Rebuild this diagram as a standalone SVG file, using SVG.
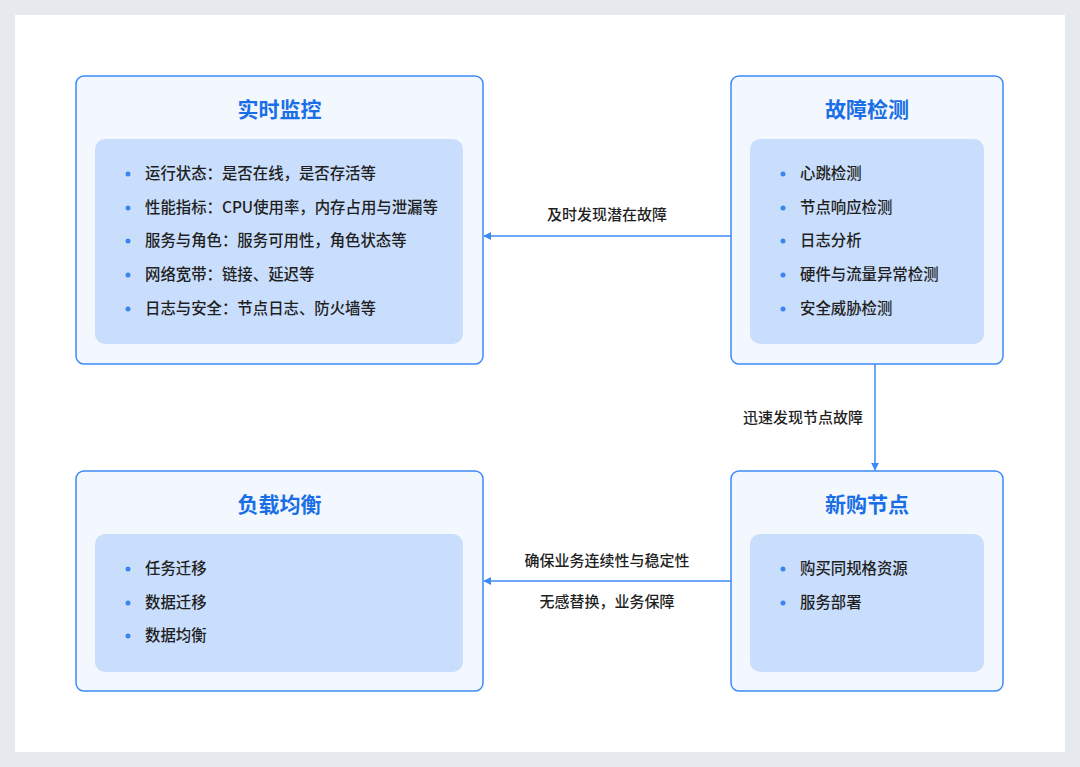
<svg xmlns="http://www.w3.org/2000/svg" width="1080" height="767" viewBox="0 0 1080 767">
<defs>
<marker id="arr" viewBox="0 0 10 10" refX="9" refY="5" markerWidth="8" markerHeight="8" markerUnits="userSpaceOnUse" orient="auto-start-reverse">
<path d="M0,0 L10,5 L0,10 z" fill="#3d8af7"/>
</marker>
<style>
.outer{fill:#f3f8ff;stroke:#3d8af7;stroke-width:1.5}
.inner{fill:#c9defc;stroke:none}
.title{font-family:"Noto Sans CJK SC","Noto Sans",sans-serif;font-size:21px;font-weight:bold;fill:#1a6ee6;text-anchor:middle}
.item{font-family:"Noto Sans CJK SC","Noto Sans",sans-serif;font-size:15.4px;font-weight:500;fill:#1f1f1f}
.bul{fill:#3a86f0}
.lbl{font-family:"Noto Sans CJK SC","Noto Sans",sans-serif;font-size:15px;font-weight:500;fill:#1f1f1f;text-anchor:middle}
.conn{stroke:#3d8af7;stroke-width:1.5;fill:none}
</style>
</defs>
<rect x="0" y="0" width="1080" height="767" fill="#e6e9ee"/>
<rect x="15" y="15" width="1050" height="737" fill="#ffffff"/>

<g id="node-monitor">
<rect class="outer" x="76" y="76" width="407" height="288" rx="8"/>
<rect class="inner" x="95" y="139" width="368" height="205" rx="10"/>
<text class="title" x="279.5" y="117">实时监控</text>
<circle class="bul" cx="128" cy="174" r="2.5"/><text class="item" x="145" y="179">运行状态：是否在线，是否存活等</text>
<circle class="bul" cx="128" cy="208" r="2.5"/><text class="item" x="145" y="213">性能指标：CPU使用率，内存占用与泄漏等</text>
<circle class="bul" cx="128" cy="241" r="2.5"/><text class="item" x="145" y="246">服务与角色：服务可用性，角色状态等</text>
<circle class="bul" cx="128" cy="275" r="2.5"/><text class="item" x="145" y="280">网络宽带：链接、延迟等</text>
<circle class="bul" cx="128" cy="309" r="2.5"/><text class="item" x="145" y="314">日志与安全：节点日志、防火墙等</text>
</g>

<g id="node-detect">
<rect class="outer" x="731" y="76" width="272" height="288" rx="8"/>
<rect class="inner" x="750" y="139" width="234" height="205" rx="10"/>
<text class="title" x="867" y="117">故障检测</text>
<circle class="bul" cx="783" cy="174" r="2.5"/><text class="item" x="800" y="179">心跳检测</text>
<circle class="bul" cx="783" cy="208" r="2.5"/><text class="item" x="800" y="213">节点响应检测</text>
<circle class="bul" cx="783" cy="241" r="2.5"/><text class="item" x="800" y="246">日志分析</text>
<circle class="bul" cx="783" cy="275" r="2.5"/><text class="item" x="800" y="280">硬件与流量异常检测</text>
<circle class="bul" cx="783" cy="309" r="2.5"/><text class="item" x="800" y="314">安全威胁检测</text>
</g>

<g id="node-new">
<rect class="outer" x="731" y="471" width="272" height="220" rx="8"/>
<rect class="inner" x="750" y="534" width="234" height="138" rx="10"/>
<text class="title" x="867" y="512">新购节点</text>
<circle class="bul" cx="783" cy="569" r="2.5"/><text class="item" x="800" y="574">购买同规格资源</text>
<circle class="bul" cx="783" cy="603" r="2.5"/><text class="item" x="800" y="608">服务部署</text>
</g>

<g id="node-balance">
<rect class="outer" x="76" y="471" width="407" height="220" rx="8"/>
<rect class="inner" x="95" y="534" width="368" height="138" rx="10"/>
<text class="title" x="279.5" y="512">负载均衡</text>
<circle class="bul" cx="128" cy="569" r="2.5"/><text class="item" x="145" y="574">任务迁移</text>
<circle class="bul" cx="128" cy="603" r="2.5"/><text class="item" x="145" y="608">数据迁移</text>
<circle class="bul" cx="128" cy="636" r="2.5"/><text class="item" x="145" y="641">数据均衡</text>
</g>

<g id="connectors">
<line class="conn" x1="731" y1="236" x2="484" y2="236" marker-end="url(#arr)"/>
<text class="lbl" x="607" y="220">及时发现潜在故障</text>
<line class="conn" x1="875" y1="364" x2="875" y2="470" marker-end="url(#arr)"/>
<text class="lbl" x="803" y="423">迅速发现节点故障</text>
<line class="conn" x1="731" y1="581" x2="484" y2="581" marker-end="url(#arr)"/>
<text class="lbl" x="607" y="566">确保业务连续性与稳定性</text>
<text class="lbl" x="607" y="607">无感替换，业务保障</text>
</g>
</svg>
